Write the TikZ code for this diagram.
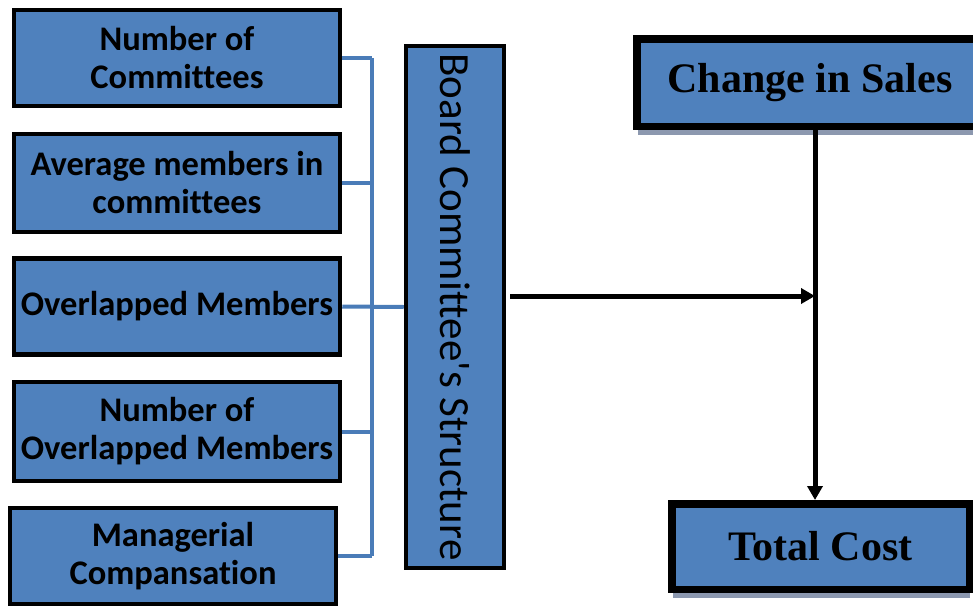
\documentclass[tikz,border=0pt]{standalone}
\usepackage{fontspec}
\setmainfont{Carlito}[Ligatures = CommonOff]
\newfontfamily\timesbold{Liberation Serif}[BoldFont = {Liberation Serif Bold}]
\usepackage{tikz}
\usetikzlibrary{arrows.meta,shadows}
\definecolor{boxblue}{RGB}{79, 129, 189}
\definecolor{linkblue}{RGB}{74, 124, 184}
\definecolor{shade}{RGB}{140, 152, 175}

\tikzset{
	factor/.style = {draw, line width = 4.5pt, fill = boxblue, align = center, inner sep = 0pt,
		minimum width = 326pt, minimum height = 96pt, font = \fontsize{34.5}{38}\selectfont\bfseries},
	outcome/.style = {draw, line width = 7.5pt, fill = boxblue, inner sep = 0pt,
		drop shadow = {shadow xshift = 1pt, shadow yshift = -9pt, fill = shade, opacity = 1},
		font = \timesbold\fontsize{42}{48}\selectfont\bfseries},
	link/.style = {draw = linkblue, line width = 4pt},
	flow/.style = {draw, line width = 5pt, -{Triangle[length = 14pt, width = 15pt]}}
}

\begin{document}
\begin{tikzpicture}[x = 1pt, y = -1pt]
		\useasboundingbox (0,0) rectangle (973,605);
		% committee measures
		\node (cmt) at (177,58) [factor] {Number of\\Committees};
		\node (avg) at (177,183) [factor, minimum height = 98pt] {Average members in\\committees};
		\node (ovl) at (177,306.5) [factor] {Overlapped Members};
		\node (novl) at (177,431.5) [factor, minimum height = 99pt] {Number of\\Overlapped Members};
		\node (mgr) at (173,556) [factor] {Managerial\\Compansation};
		% construct
		\node (brd) at (455,307) [draw, line width = 4.5pt, fill = boxblue, minimum width = 98pt, minimum height = 522pt,
			font = \fontsize{43}{48}\selectfont] {\rotatebox{-90}{Board Committee\textquotesingle s Structure}};
		% outcomes
		\node (sales) at (810,82.5) [outcome, minimum width = 346.5pt, minimum height = 87.5pt] {Change in Sales};
		\node (cost) at (820.5,546.5) [outcome, minimum width = 297.5pt, minimum height = 85.5pt] {Total Cost};
		\coordinate (jn) at (372,307);
		\coordinate (hit) at (815,296);
		% bracket
		\draw[link] (cmt.east) -- (cmt.east -| jn);
		\draw[link] (avg.east) -- (avg.east -| jn);
		\draw[link] (novl.east) -- (novl.east -| jn);
		\draw[link] (mgr.east) -- (mgr.east -| jn);
		\draw[link] (cmt.east -| jn) -- (mgr.east -| jn);
		\draw[link] (ovl.east) -- (brd.west);
		% arrows
		\draw[flow] ([xshift = 4pt]brd.east |- hit) -- (hit);
		\draw[flow] (sales.south -| hit) -- (cost.north -| hit);
\end{tikzpicture}
\end{document}
